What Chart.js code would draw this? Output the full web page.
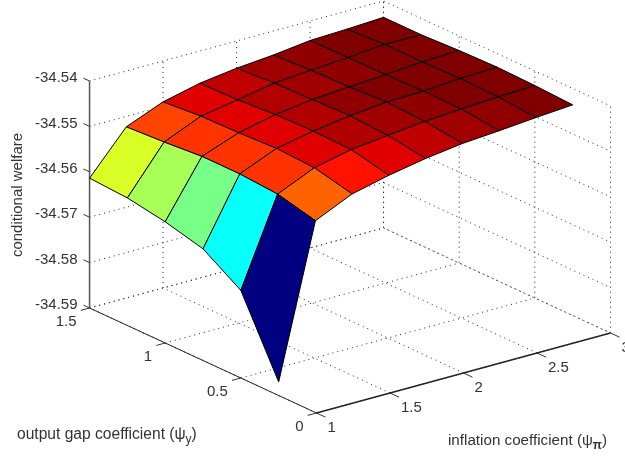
<!DOCTYPE html>
<html>
<head>
<meta charset="utf-8">
<script src="https://cdn.jsdelivr.net/npm/chart.js@4"></script>
<style>
  html, body { margin: 0; padding: 0; background: #fff; overflow: hidden; }
  canvas { display: block; filter: blur(0.35px); }
</style>
</head>
<body>
<canvas id="surface" width="625" height="456"></canvas>
<script>
// grid the surface was computed on
const psiPi = [1, 1.25, 1.5, 1.75, 2, 2.25, 2.5, 2.75, 3];
const psiY = [1.5, 1.25, 1, 0.75, 0.5, 0.25];

// conditional welfare, one row per psiPi, columns follow psiY
const welfare = [
    [-34.5614, -34.5619, -34.5633, -34.5654, -34.5707, -34.5870],
    [-34.5523, -34.5518, -34.5511, -34.5511, -34.5517, -34.5537],
    [-34.5490, -34.5483, -34.5481, -34.5477, -34.5481, -34.5500],
    [-34.5471, -34.5469, -34.5463, -34.5461, -34.5463, -34.5481],
    [-34.5460, -34.5454, -34.5452, -34.5449, -34.5454, -34.5466],
    [-34.5453, -34.5448, -34.5446, -34.5441, -34.5445, -34.5455],
    [-34.5443, -34.5442, -34.5441, -34.5439, -34.5440, -34.5449],
    [-34.5440, -34.5435, -34.5435, -34.5433, -34.5435, -34.5442],
    [-34.5436, -34.5436, -34.5432, -34.5430, -34.5432, -34.5436]
];

const piTicks = [1, 1.5, 2, 2.5, 3];
const yTicks = [0, 0.5, 1, 1.5];
const zTicks = [-34.54, -34.55, -34.56, -34.57, -34.58, -34.59];

const zLabels = ['-34.54', '-34.55', '-34.56', '-34.57', '-34.58', '-34.59'];
const yLabels = ['0', '0.5', '1', '1.5'];
const piLabels = ['1', '1.5', '2', '2.5', '3'];

// view of the 3d box (same camera as the matlab figure), in scale units
const view = { x0: 316.5, y0: 413, piX: 147, piY: -40, yX: -151.3, yY: -70, zY: -4540 };
const zFloor = -34.59, zTop = -34.54;

function project(pi, y, z) {
    return {
        x: view.x0 + (pi - 1) * view.piX + y * view.yX,
        y: view.y0 + (pi - 1) * view.piY + y * view.yY + (z - zFloor) * view.zY
    };
}

// matlab jet, 64 levels
function jet(t) {
    t = Math.floor(Math.min(t, 0.9999) * 64) / 63;
    const band = (c) => Math.round(255 * Math.max(0, Math.min(1, 1.5 - Math.abs(4 * t - c))));
    return `rgb(${band(3)},${band(2)},${band(1)})`;
}

// colour limits, the top one a little under the highest reading
const zMin = Math.min(...welfare.flat());
const zMax = -34.5436;

const datasets = [];

function addLine(points, color, width, dash, order) {
    datasets.push({
        data: points, showLine: true, borderColor: color, borderWidth: width,
        borderDash: dash, pointRadius: 0, fill: false, order: order
    });
}

// dotted grid on the floor and the two back walls
const dots = [1, 4];
piTicks.forEach(p => {
    addLine([project(p, 0, zFloor), project(p, 1.5, zFloor), project(p, 1.5, zTop)], '#222', 1, dots, 1000);
});
yTicks.forEach(y => {
    addLine([project(1, y, zFloor), project(3, y, zFloor), project(3, y, zTop)], '#222', 1, dots, 1000);
});
zTicks.forEach(z => {
    addLine([project(1, 1.5, z), project(3, 1.5, z), project(3, 0, z)], '#222', 1, dots, 1000);
});

// axes and their tick marks
addLine([project(1, 1.5, zFloor), project(1, 1.5, zTop)], '#555', 1.5, [], 900);
addLine([project(1, 1.5, zFloor), project(1, 0, zFloor)], '#222', 1, [], 900);
addLine([project(1, 0, zFloor), project(3, 0, zFloor)], '#222', 1.3, [], 900);
zTicks.forEach(z => {
    addLine([project(1, 1.5, z), project(1, 1.54, z)], '#333', 1, [], 900);
});
yTicks.forEach(y => {
    addLine([project(1, y, zFloor), project(0.94, y, zFloor)], '#333', 1, [], 900);
});
piTicks.forEach(p => {
    addLine([project(p, 0, zFloor), project(p, -0.06, zFloor)], '#333', 1, [], 900);
});

// surface patches, the far ones drawn first
let patchOrder = 800;
for (let i = psiPi.length - 2; i >= 0; i--) {
    for (let j = 0; j < psiY.length - 1; j++) {
        const t = (welfare[i][j + 1] - zMin) / (zMax - zMin);
        datasets.push({
            data: [
                project(psiPi[i], psiY[j], welfare[i][j]),
                project(psiPi[i + 1], psiY[j], welfare[i + 1][j]),
                project(psiPi[i + 1], psiY[j + 1], welfare[i + 1][j + 1]),
                project(psiPi[i], psiY[j + 1], welfare[i][j + 1]),
                project(psiPi[i], psiY[j], welfare[i][j])
            ],
            showLine: true, fill: 'shape', backgroundColor: jet(t),
            borderColor: '#000', borderWidth: 1, pointRadius: 0, order: patchOrder--
        });
    }
}

const textFont = '"Liberation Sans", Arial, sans-serif';
const textColor = '#333';

// tick labels and axis titles, placed through the chart scales
const boxText = {
    id: 'boxText',
    afterDraw(chart) {
        const { ctx, scales } = chart;
        const put = (text, p, dx, dy, align, font) => {
            ctx.font = font;
            ctx.textAlign = align;
            ctx.fillText(text, scales.x.getPixelForValue(p.x) + dx, scales.y.getPixelForValue(p.y) + dy);
        };
        ctx.save();
        ctx.fillStyle = textColor;
        ctx.textBaseline = 'middle';
        const tickFont = '15px ' + textFont;
        zTicks.forEach((z, k) => put(zLabels[k], project(1, 1.5, z), -12, -3, 'right', tickFont));
        yTicks.forEach((y, k) => put(yLabels[k], project(1, y, zFloor), -13, 14, 'right', tickFont));
        piTicks.forEach((p, k) => put(piLabels[k], project(p, 0, zFloor), 11, 15, 'left', tickFont));

        // welfare title runs up the left side
        ctx.save();
        ctx.translate(18, 195);
        ctx.rotate(-Math.PI / 2);
        ctx.textAlign = 'center';
        ctx.font = '15px ' + textFont;
        ctx.fillText('conditional welfare', 0, 0);
        ctx.restore();

        ctx.textAlign = 'left';
        const title = (x, y, size, head, sub, subFont) => {
            ctx.font = size + 'px ' + textFont;
            ctx.fillText(head, x, y);
            let w = x + ctx.measureText(head).width;
            ctx.font = subFont;
            ctx.fillText(sub, w, y + 5);
            w += ctx.measureText(sub).width;
            ctx.font = size + 'px ' + textFont;
            ctx.fillText(')', w, y);
        };
        title(17, 435, 15.6, 'output gap coefficient (ψ', 'y', '12px ' + textFont);
        title(448, 441, 15.2, 'inflation coefficient (ψ', 'π', 'bold 12px ' + textFont);
        ctx.restore();
    }
};

new Chart(document.getElementById('surface'), {
    type: 'scatter',
    data: { datasets: datasets },
    options: {
        responsive: false,
        animation: false,
        events: [],
        layout: { padding: 0 },
        elements: { line: { tension: 0 } },
        plugins: { legend: { display: false }, tooltip: { enabled: false }, title: { display: false } },
        scales: {
            x: { type: 'linear', min: 0, max: 625, display: false },
            y: { type: 'linear', min: 0, max: 456, reverse: true, display: false }
        }
    },
    plugins: [boxText]
});
</script>
</body>
</html>
